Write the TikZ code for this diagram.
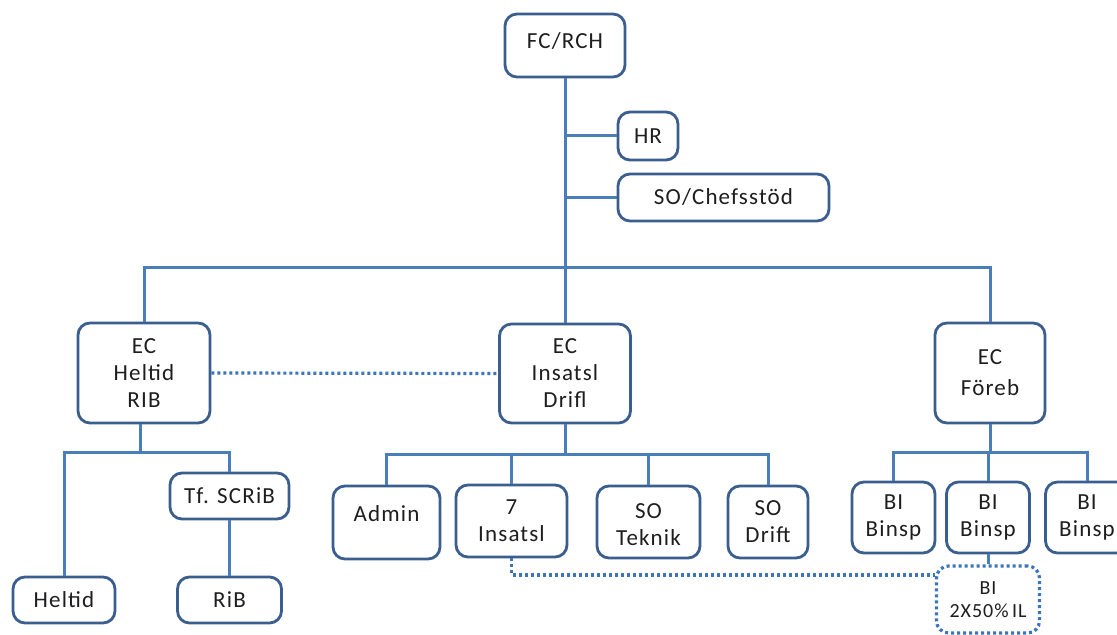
\documentclass[tikz,border=0pt]{standalone}
\usepackage{fontspec}
\setmainfont{Carlito}[LetterSpace=5]
\usetikzlibrary{calc}
\definecolor{conn}{HTML}{4A7EBB}
\definecolor{bord}{HTML}{3A5F8E}
\definecolor{dotc}{HTML}{3D74BA}
\definecolor{txt}{HTML}{1E1E1E}
\tikzset{
  ob/.style={draw=bord, line width=1.4pt, rounded corners=6pt, inner sep=0pt,
    align=center, text=txt, font=\fontsize{11.5}{13.5}\selectfont, fill=white},
  dotbox/.style={ob, draw=dotc, line width=1.6pt, dash pattern=on 1.5pt off 1.5pt,
    font=\fontsize{10}{11.5}\selectfont},
  wire/.style={draw=conn, line width=1.5pt},
  dotwire/.style={draw=dotc, line width=1.6pt, dash pattern=on 1.5pt off 1.5pt},
  sz/.style 2 args={minimum width=#1, minimum height=#2}
}
\begin{document}
\begin{tikzpicture}[x=0.5pt,y=-0.5pt]
\clip (0,0) rectangle (1117,635);
\fill[white] (0,0) rectangle (1117,635);
% nodes
\node[ob, sz={60pt}{31.5pt}, text depth=5pt] (fc) at (565,45.5) {FC/RCH};
\node[ob, sz={30pt}{24pt}] (hr) at (648,136) {HR};
\node[ob, sz={105.5pt}{23.5pt}] (so) at (723.5,197.5) {SO/Chefsstöd};
\node[ob, sz={66pt}{50pt}] (ech) at (144,373) {EC\\Heltid\\RIB};
\node[ob, sz={65.5pt}{49.5pt}] (eci) at (565,373.5) {EC\\Insatsl\\Drifl};
\node[ob, sz={55pt}{50pt}] (ecf) at (990,373) {EC\\[2pt]Föreb};
\node[ob, sz={51pt}{23pt}] (heltid) at (64,600) {Heltid};
\node[ob, sz={59.5pt}{23pt}] (tf) at (229.5,496) {Tf. SCRiB};
\node[ob, sz={52pt}{23pt}] (rib) at (229.5,600) {RiB};
\node[ob, sz={53.5pt}{36.5pt}, text depth=9pt] (admin) at (386.5,522.5) {Admin};
\node[ob, sz={55.5pt}{36pt}] (ins7) at (511.5,521) {7\\Insatsl};
\node[ob, sz={51.5pt}{36pt}] (sot) at (648.5,522) {\rule{0pt}{10pt}SO\\Teknik};
\node[ob, sz={40pt}{36pt}] (sod) at (768,522) {SO\\Drift};
\node[ob, sz={41.5pt}{35.5pt}] (bi1) at (893.5,517.5) {BI\\Binsp};
\node[ob, sz={41.5pt}{35.5pt}] (bi2) at (988,517.5) {BI\\Binsp};
\node[ob, sz={41.5pt}{35.5pt}] (bi3) at (1087,517.5) {BI\\Binsp};
\node[dotbox, sz={51.5pt}{33.5pt}] (bix) at (988,599.5) {BI\\2X50\%\,IL};
% bus coordinates
\coordinate (top) at (0,268);
\coordinate (b1) at (0,452);
\coordinate (b2) at (0,454);
\coordinate (dl) at (0,575);
% connectors
\draw[wire] (fc.south) -- (eci.north);
\draw[wire] (fc.south |- hr.west) -- (hr.west);
\draw[wire] (fc.south |- so.west) -- (so.west);
\draw[wire] (ech.north) -- (ech.north |- top) -- (ecf.north |- top) -- (ecf.north);
% left group
\draw[wire] ([xshift=-2pt]ech.south) -- ([xshift=-2pt]ech.south |- b1);
\draw[wire] (heltid.north) |- (tf.north |- b1) -- (tf.north);
\draw[wire] (tf.south) -- (rib.north);
% middle group
\draw[wire] (eci.south) -- (eci.south |- b2);
\draw[wire] (admin.north) |- (sod.north |- b2) -- (sod.north);
\draw[wire] (ins7.north) -- (ins7.north |- b2);
\draw[wire] (sot.north) -- (sot.north |- b2);
% right group
\draw[wire] (ecf.south) -- (ecf.south |- b1);
\draw[wire] (bi1.north) |- (bi3.north |- b1) -- (bi3.north);
\draw[wire] (bi2.north) -- (bi2.north |- b1);
\draw[wire] (bi2.south) -- (bix.north);
% dotted links
\draw[dotwire] (ech.east) -- (eci.west);
\draw[dotwire] (ins7.south) |- (bix.west |- dl);
\end{tikzpicture}
\end{document}
